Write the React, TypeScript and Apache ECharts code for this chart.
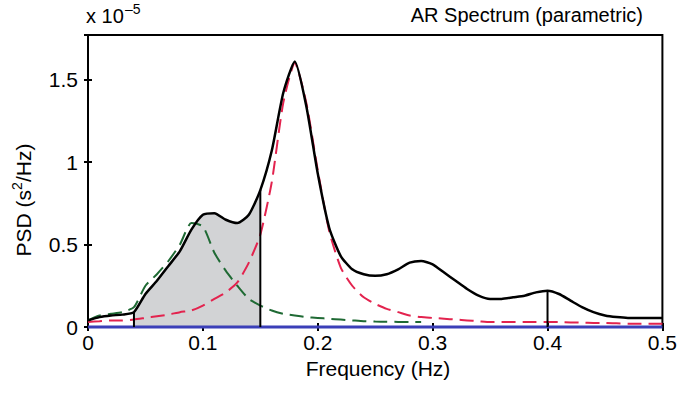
import React, { useEffect, useRef } from 'react';
import * as echarts from 'echarts';

const freq = [0.00, 0.01, 0.02, 0.03, 0.04, 0.05, 0.06, 0.07, 0.08, 0.09, 0.10, 0.11, 0.12, 0.13, 0.14, 0.15, 0.16, 0.17, 0.18, 0.19, 0.20, 0.21, 0.22, 0.23, 0.24, 0.25, 0.26, 0.27, 0.28, 0.29, 0.30, 0.31, 0.32, 0.33, 0.34, 0.35, 0.36, 0.37, 0.38, 0.39, 0.40, 0.41, 0.42, 0.43, 0.44, 0.45, 0.46, 0.47, 0.48, 0.49, 0.50];
const totalPSD = [0.04, 0.06, 0.07, 0.075, 0.09, 0.20, 0.28, 0.37, 0.46, 0.59, 0.68, 0.69, 0.65, 0.63, 0.68, 0.83, 1.07, 1.42, 1.61, 1.34, 0.93, 0.60, 0.43, 0.35, 0.32, 0.31, 0.32, 0.35, 0.39, 0.40, 0.38, 0.33, 0.28, 0.23, 0.19, 0.17, 0.17, 0.18, 0.19, 0.21, 0.22, 0.20, 0.16, 0.12, 0.09, 0.07, 0.06, 0.055, 0.055, 0.055, 0.055];
const lfPSD = [0.04, 0.07, 0.08, 0.09, 0.12, 0.25, 0.32, 0.40, 0.50, 0.63, 0.61, 0.45, 0.34, 0.25, 0.17, 0.13, 0.10, 0.08, 0.07, 0.06, 0.055, 0.05, 0.045, 0.04, 0.035, 0.033, 0.032, 0.031, 0.03, 0.03];
const hfPSD = [0.03, 0.035, 0.04, 0.04, 0.045, 0.055, 0.065, 0.075, 0.09, 0.10, 0.13, 0.17, 0.21, 0.27, 0.39, 0.56, 0.88, 1.36, 1.60, 1.36, 0.95, 0.58, 0.36, 0.25, 0.18, 0.14, 0.11, 0.09, 0.07, 0.06, 0.055, 0.05, 0.045, 0.04, 0.035, 0.03, 0.03, 0.03, 0.03, 0.03, 0.03, 0.03, 0.028, 0.026, 0.025, 0.025, 0.022, 0.02, 0.02, 0.02, 0.02];
const baseFreq = [0, 0.5];
const basePSD = [0, 0];
const bandEdges = [0.04, 0.15, 0.4];
const fillBand = [0.04, 0.15];
const yMax = 1.77;
const titleText = 'AR Spectrum (parametric)';
const xName = 'Frequency (Hz)';

function interpTotal(f: number): number {
  for (let i = 0; i < freq.length - 1; i++) {
    if (f >= freq[i] - 1e-9 && f <= freq[i + 1] + 1e-9) {
      const t = (f - freq[i]) / (freq[i + 1] - freq[i]);
      return totalPSD[i] + t * (totalPSD[i + 1] - totalPSD[i]);
    }
  }
  return 0;
}

const FONT = 'Liberation Sans, Arial, sans-serif';

export default function App() {
  const ref = useRef<HTMLDivElement>(null);
  useEffect(() => {
    if (!ref.current) return;
    const chart = echarts.init(ref.current, undefined, { renderer: 'svg' });
    const pairs = (xs: number[], ys: number[]) => ys.map((y, i) => [xs[i], y]);
    const fillData = freq
      .map((f, i) => [f, totalPSD[i]])
      .filter(([f]) => f >= fillBand[0] - 1e-9 && f <= fillBand[1] + 1e-9);
    const edgeSeries = bandEdges.map((e) => ({
      type: 'line',
      data: [[e, 0], [e, interpTotal(e)]],
      showSymbol: false,
      lineStyle: { color: '#000', width: 2 },
      z: 6,
      silent: true,
    }));
    const tickFmt = (v: number) => {
      const r = Math.round(v * 10) / 10;
      return String(r);
    };
    const yFmt = (v: number) => {
      if (Math.abs(v * 2 - Math.round(v * 2)) > 1e-6) return '';
      return String(Math.round(v * 2) / 2);
    };
    const option: any = {
      animation: false,
      grid: { left: 88, right: 15, top: 35, bottom: 69, show: true, borderColor: '#000', borderWidth: 2, backgroundColor: 'transparent' },
      xAxis: [
        {
          type: 'value', min: 0, max: 0.5, interval: 0.1,
          axisLine: { show: false },
          axisTick: { inside: true, length: 4, lineStyle: { color: '#000', width: 2 } },
          axisLabel: { color: '#000', fontSize: 21, fontFamily: FONT, margin: 5, formatter: tickFmt },
          splitLine: { show: false },
        },
        {
          type: 'value', min: 0, max: 0.5, interval: 0.1, position: 'top',
          axisLine: { show: false },
          axisTick: { inside: true, length: 4, lineStyle: { color: '#000', width: 2 } },
          axisLabel: { show: false },
          splitLine: { show: false },
        },
      ],
      yAxis: [
        {
          type: 'value', min: 0, max: yMax, interval: 0.5,
          axisLine: { show: false },
          axisTick: { inside: true, length: 4, lineStyle: { color: '#000', width: 2 } },
          axisLabel: { color: '#000', fontSize: 21, fontFamily: FONT, margin: 10, formatter: yFmt, showMaxLabel: false },
          splitLine: { show: false },
        },
        {
          type: 'value', min: 0, max: yMax, interval: 0.5, position: 'right',
          axisLine: { show: false },
          axisTick: { inside: true, length: 4, lineStyle: { color: '#000', width: 2 } },
          axisLabel: { show: false },
          splitLine: { show: false },
        },
      ],
      series: [
        {
          type: 'line', data: fillData, showSymbol: false, smooth: 0.2,
          lineStyle: { width: 0 }, areaStyle: { color: '#d2d3d5', opacity: 1 }, z: 1, silent: true,
        },
        {
          type: 'line', data: pairs(baseFreq, basePSD), showSymbol: false, clip: false,
          lineStyle: { color: '#3b3fb8', width: 3 }, z: 3,
        },
        {
          type: 'line', data: pairs(freq, lfPSD), showSymbol: false, smooth: 0.2,
          lineStyle: { color: '#1f6a34', width: 2, type: [14, 7] }, z: 4,
        },
        {
          type: 'line', data: pairs(freq, hfPSD), showSymbol: false, smooth: 0.2,
          lineStyle: { color: '#e3234e', width: 2, type: [14, 7] }, z: 4,
        },
        {
          type: 'line', data: pairs(freq, totalPSD), showSymbol: false, smooth: 0.2,
          lineStyle: { color: '#000', width: 2.5 }, z: 5,
        },
        ...edgeSeries,
      ],
      graphic: [
        {
          type: 'text', x: 86, y: 16,
          style: { text: 'x 10', fontSize: 20, fontFamily: FONT, fill: '#000', verticalAlign: 'middle', align: 'left' },
        },
        {
          type: 'text', x: 125, y: 9,
          style: { text: '\u20135', fontSize: 14, fontFamily: FONT, fill: '#000', verticalAlign: 'middle', align: 'left' },
        },
        {
          type: 'text', x: 643, y: 15,
          style: { text: titleText, fontSize: 20, fontFamily: FONT, fill: '#000', verticalAlign: 'middle', align: 'right' },
        },
        {
          type: 'text', x: 378, y: 368,
          style: { text: xName, fontSize: 21, fontFamily: FONT, fill: '#000', verticalAlign: 'middle', align: 'center' },
        },
        {
          type: 'text', x: 23, y: 200, rotation: Math.PI / 2,
          style: {
            text: 'PSD (s{sup|2}/Hz)', fontSize: 21, fontFamily: FONT, fill: '#000', verticalAlign: 'middle', align: 'center',
            rich: { sup: { fontSize: 14, fontFamily: FONT, fill: '#000', verticalAlign: 'top', lineHeight: 26 } },
          },
        },
      ],
    };
    chart.setOption(option);
    return () => chart.dispose();
  }, []);
  return <div ref={ref} style={{ width: 680, height: 396, position: 'absolute', left: 0, top: 0 }} />;
}
